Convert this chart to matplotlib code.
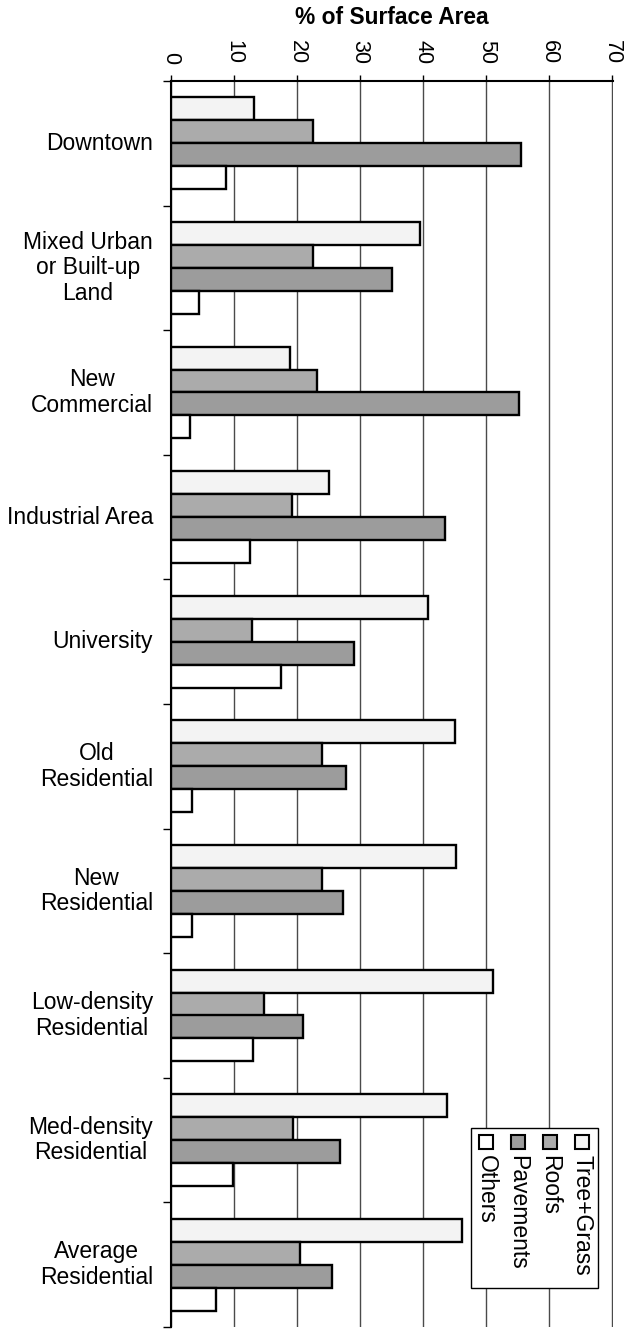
import matplotlib

matplotlib.use("Agg")
import matplotlib.pyplot as plt
import numpy as np
from matplotlib.patches import Rectangle

plt.rcParams["font.family"] = ["Liberation Sans", "DejaVu Sans"]

# land-use categories (top to bottom)
categories = [
    "Downtown",
    "Mixed Urban\nor Built-up\nLand",
    "New\nCommercial",
    "Industrial Area",
    "University",
    "Old\nResidential",
    "New\nResidential",
    "Low-density\nResidential",
    "Med-density\nResidential",
    "Average\nResidential",
]

# % of surface area
tree_grass = [13.2, 39.5, 18.8, 25.0, 40.8, 45.0, 45.2, 51.1, 43.8, 46.2]
roofs = [22.5, 22.5, 23.2, 19.2, 12.9, 24.0, 24.0, 14.8, 19.4, 20.5]
pavements = [55.5, 35.0, 55.2, 43.5, 29.1, 27.7, 27.2, 20.9, 26.8, 25.6]
others = [8.8, 4.4, 3.0, 12.6, 17.4, 3.3, 3.4, 13.0, 9.9, 7.2]

series_names = ["Tree+Grass", "Roofs", "Pavements", "Others"]
series_colors = ["#f3f3f3", "#ababab", "#9c9c9c", "white"]
x_ticks = [0, 10, 20, 30, 40, 50, 60, 70]

W, H = 630, 1334
fig = plt.figure(figsize=(W / 100, H / 100), dpi=100)
ax = fig.add_axes([171 / W, 1 - 1327 / H, 442 / W, 1246 / H])

y = np.arange(len(categories))
bh = 0.184
series = [tree_grass, roofs, pavements, others]
for k, (vals, col, name) in enumerate(zip(series, series_colors, series_names)):
    ax.barh(
        y + (k - 1.5) * bh,
        vals,
        height=bh,
        color=col,
        edgecolor="black",
        linewidth=1.7,
        zorder=3,
        label=name,
    )

ax.set_xlim(0, 70.1)
ax.set_ylim(len(categories) - 0.5, -0.5)

# x axis on top, rotated labels
ax.xaxis.tick_top()
ax.set_xticks(x_ticks)
ax.set_xticklabels([str(t) for t in x_ticks])
ax.tick_params(axis="x", which="major", length=4.5, width=1, pad=8,
               labelsize=15.5, labelrotation=-90)

# category labels, with separator ticks between groups
ax.set_yticks(y)
ax.set_yticklabels(categories)
for lab in ax.get_yticklabels():
    lab.set_multialignment("center")
    lab.set_linespacing(1.15)
    lab.set_verticalalignment("center")
ax.set_yticks(np.arange(-0.5, len(categories), 1), minor=True)
ax.tick_params(axis="y", which="major", length=0, pad=13, labelsize=16.5)
ax.tick_params(axis="y", which="minor", length=6, width=1)

ax.grid(axis="x", color="#4a4a4a", linewidth=1)
ax.set_axisbelow(True)
for side in ["right", "bottom"]:
    ax.spines[side].set_visible(False)
for side in ["top", "left"]:
    ax.spines[side].set_linewidth(1.5)

fig.text(392 / W, 1 - 17 / H, "% of Surface Area", ha="center", va="center",
         fontsize=16.4, fontweight="bold")


# legend drawn by hand so the text can run top to bottom
def fx(px):
    return px / W


def fy(py):
    return 1 - py / H


fig.add_artist(Rectangle((fx(471), fy(1288)), 127 / W, 160 / H,
                         transform=fig.transFigure, facecolor="white",
                         edgecolor="black", linewidth=1, zorder=5))
for k, (name, col) in enumerate(zip(series_names, series_colors)):
    cx = 582 - 32 * k
    fig.add_artist(Rectangle((fx(cx - 7), fy(1149)), 14 / W, 14 / H,
                             transform=fig.transFigure, facecolor=col,
                             edgecolor="black", linewidth=1.5, zorder=6))
    fig.text(fx(cx), fy(1155), name, rotation=-90, ha="center", va="top",
             fontsize=16.5, zorder=6)

fig.savefig("out.png", dpi=100)
